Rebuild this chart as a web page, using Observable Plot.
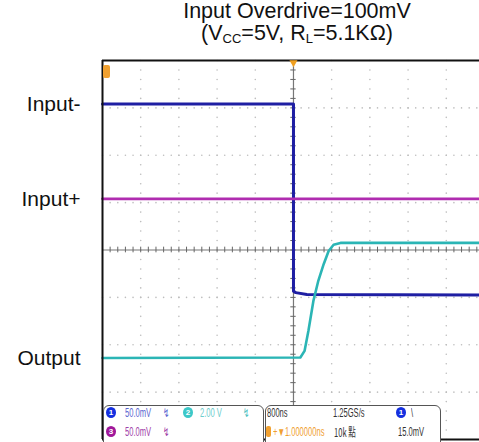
<!DOCTYPE html>
<html><head><meta charset="utf-8">
<script src="https://cdn.jsdelivr.net/npm/d3@7"></script>
<script src="https://cdn.jsdelivr.net/npm/@observablehq/plot@0.6"></script>
<style>
body{margin:0;background:#fff;}
#wrap{position:relative;width:479px;height:442px;overflow:hidden;font-family:"Liberation Sans",Arial,sans-serif;background:#fff;}
#title{position:absolute;left:97px;top:0;width:400px;text-align:center;font-size:21.5px;line-height:22px;color:#111;}
#title sub{font-size:13px;vertical-align:-3px;line-height:0;}
#chart{position:absolute;left:0;top:58px;}
.box{position:absolute;top:405px;height:40px;border:1.5px solid #555;border-radius:6px 6px 0 0;background:#fff;box-sizing:border-box;}
.t{position:absolute;font-family:"Liberation Sans",Arial,sans-serif;font-size:12px;line-height:12px;white-space:nowrap;transform:scaleX(0.63);transform-origin:0 50%;}
.c{position:absolute;width:10px;height:11px;border-radius:50%;color:#fff;font-size:8px;line-height:11px;text-align:center;font-weight:bold;font-family:"Liberation Sans",Arial,sans-serif;}
</style></head>
<body>
<div id="wrap">
  <div id="title">Input Overdrive=100mV<br>(V<sub>CC</sub>=5V, R<sub>L</sub>=5.1KΩ)</div>
  <div id="chart"></div>
  <div id="panel"></div>
</div>
<script>
// Channel labels and their trace levels (in screen divisions, 0 = centre line)
const channels = ["Input-", "Input+", "Output"];
const channelColors = ["#1f1fa3", "#b02cb0", "#2bb5b5"];

// Input- (channel 1): time (div) and level (div)
const inMinusT = [-5, 0, 0, 0.06, 0.35, 4.87];
const inMinusV = [3.08, 3.08, -0.87, -0.9, -0.94, -0.95];

// Input+ (channel 3)
const inPlusT = [-5, 4.87];
const inPlusV = [1.08, 1.08];

// Output (channel 2)
const outT = [-5, 0.18, 0.29, 0.39, 0.52, 0.65, 0.79, 0.92, 1.05, 1.23, 4.87];
const outV = [-2.28, -2.27, -2.13, -1.71, -1.08, -0.65, -0.30, -0.02, 0.11, 0.15, 0.15];

// Levels used to place the channel labels
const labelLevels = [3.08, 1.08, -2.28];

// Scope readout texts
const readoutRow1 = ["50.0mV", "2.00 V", "800ns", "1.25GS/s", "\\"];
const readoutRow2 = ["50.0mV", "+▼1.000000ns", "10k 點", "15.0mV"];

// Grid (scope graticule)
const xMajor = d3.range(-4, 5).filter(d => d !== 0);
const yMajor = d3.range(-3, 4).filter(d => d !== 0);
const xFine = d3.range(-5, 4.9, 0.2);
const yFine = d3.range(-4, 4.01, 0.2);
const gridPts = [];
for (const y of yMajor) for (const x of xFine) gridPts.push([x, y]);
for (const x of xMajor) for (const y of yFine) gridPts.push([x, y]);

const series = [
  {t: inMinusT, v: inMinusV, c: channelColors[0], w: 3},
  {t: inPlusT, v: inPlusV, c: channelColors[1], w: 2.8},
  {t: outT, v: outV, c: channelColors[2], w: 2.6}
];

const plot = Plot.plot({
  width: 479, height: 384,
  marginLeft: 102, marginRight: 0, marginTop: 2, marginBottom: 3,
  x: {domain: [-5, 4.87], axis: null},
  y: {domain: [-4, 4], axis: null},
  style: {background: "transparent", overflow: "visible"},
  marks: [
    Plot.dot(gridPts, {x: d => d[0], y: d => d[1], r: 0.8, fill: "#bdbdbd", stroke: null}),
    Plot.ruleX([0], {stroke: "#777", strokeWidth: 1.2}),
    Plot.ruleY([0], {stroke: "#777", strokeWidth: 1.2}),
    Plot.ruleY(yFine, {y: d => d, x1: -0.07, x2: 0.07, stroke: "#666", strokeWidth: 1}),
    Plot.ruleX(xFine, {x: d => d, y1: -0.06, y2: 0.06, stroke: "#666", strokeWidth: 1}),
    ...series.map(s => Plot.line(d3.zip(s.t, s.v), {x: d => d[0], y: d => d[1], stroke: s.c, strokeWidth: s.w, strokeLinejoin: "round"})),
    Plot.ruleX([-5], {stroke: "#111", strokeWidth: 2}),
    Plot.ruleY([4], {stroke: "#111", strokeWidth: 2}),
    Plot.ruleY([-4], {stroke: "#111", strokeWidth: 2}),
    Plot.dot([0], {x: d => d, y: () => 4, symbol: "triangle", rotate: 180, r: 3, fill: "#f0a020", stroke: null, dy: 2}),
    Plot.text(channels, {x: () => -5, y: (d, i) => labelLevels[i], text: d => d, textAnchor: "end", dx: -22, fontSize: 21, fill: "#111", fontFamily: "Liberation Sans, Arial, sans-serif"})
  ]
});
document.getElementById("chart").appendChild(plot);

// Scope status panel (overlay)
const panel = document.getElementById("panel");
function add(html) { panel.insertAdjacentHTML("beforeend", html); }
add(`<div style="position:absolute;left:103px;top:65px;width:7px;height:13px;border-radius:2px;background:#f0a030"></div>`);
add(`<div class="box" style="left:103px;width:161px"></div>`);
add(`<div class="box" style="left:265px;width:176px"></div>`);
// row 1
add(`<div class="c" style="left:106px;top:407px;background:#1530e0">1</div>`);
add(`<div class="t" style="left:125px;top:407px;color:#5a66d0">${readoutRow1[0]}</div>`);
add(`<div class="t" style="left:163px;top:407px;color:#5a66d0">↯</div>`);
add(`<div class="c" style="left:183px;top:407px;background:#3cc8c8">2</div>`);
add(`<div class="t" style="left:200px;top:407px;color:#6ccccc">${readoutRow1[1]}</div>`);
add(`<div class="t" style="left:243px;top:407px;color:#4cc0c0">↯</div>`);
add(`<div class="t" style="left:267px;top:407px;color:#333">${readoutRow1[2]}</div>`);
add(`<div class="t" style="left:333px;top:407px;color:#333">${readoutRow1[3]}</div>`);
add(`<div class="c" style="left:396px;top:407px;background:#1530e0">1</div>`);
add(`<div class="t" style="left:411px;top:407px;color:#333">${readoutRow1[4]}</div>`);
// row 2
add(`<div class="c" style="left:106px;top:426px;background:#a0189a">3</div>`);
add(`<div class="t" style="left:125px;top:426px;color:#a040a8">${readoutRow2[0]}</div>`);
add(`<div class="t" style="left:163px;top:426px;color:#a040a8">↯</div>`);
add(`<div style="position:absolute;left:266px;top:426px;width:5px;height:11px;border-radius:2px;background:#f0a030"></div>`);
add(`<div class="t" style="left:273px;top:426px;color:#f0a030">${readoutRow2[1]}</div>`);
add(`<div class="t" style="left:334px;top:426px;color:#333;font-family:'Noto Sans CJK TC','Liberation Sans',sans-serif">${readoutRow2[2]}</div>`);
add(`<div class="t" style="left:398px;top:426px;color:#333">${readoutRow2[3]}</div>`);
</script>
</body></html>
